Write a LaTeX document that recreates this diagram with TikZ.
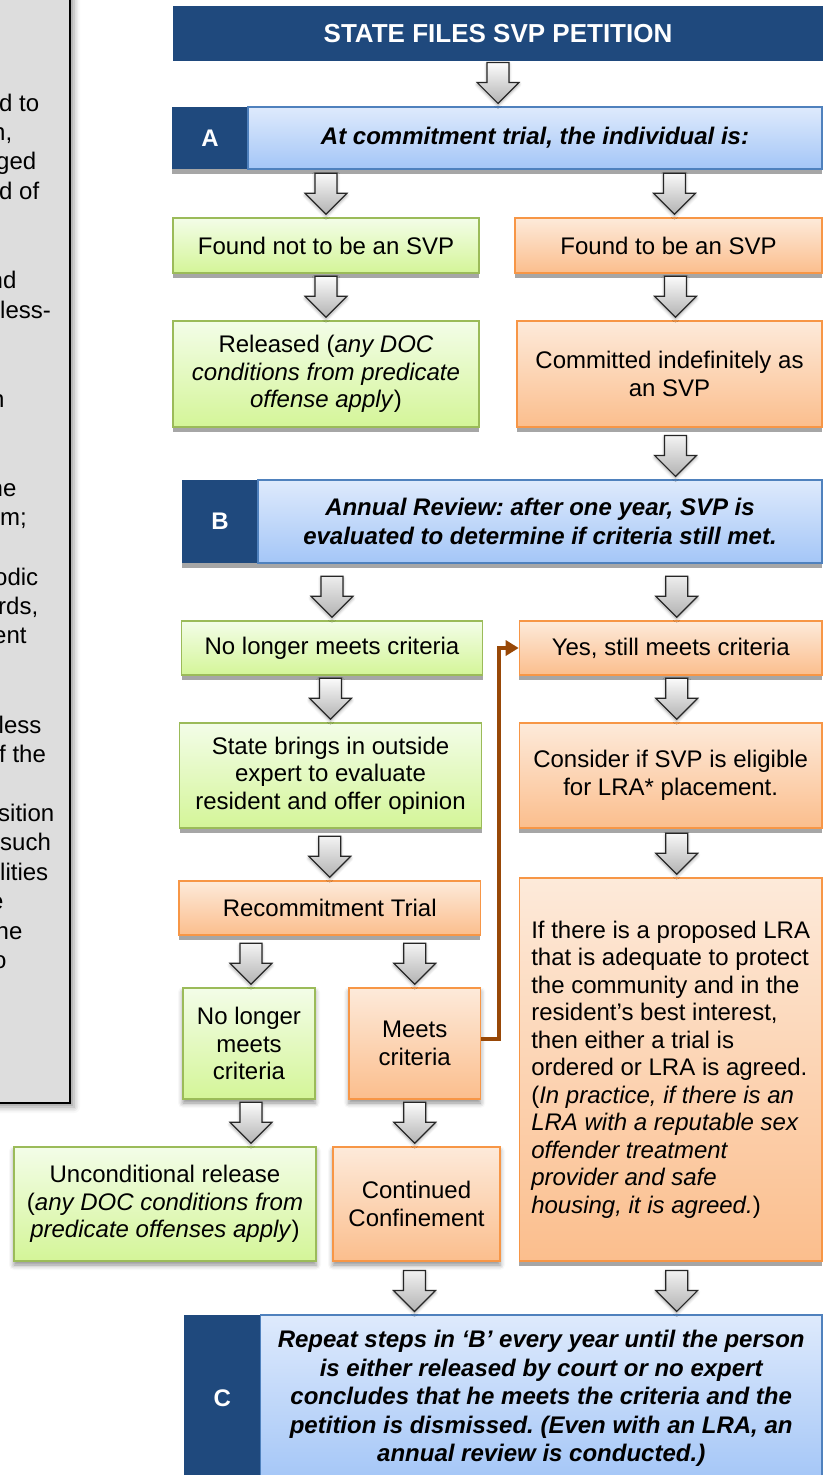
\documentclass[tikz,border=0pt]{standalone}
\usepackage{fontspec}
\setmainfont{Liberation Sans}
\frenchspacing
\usetikzlibrary{calc}
\usetikzlibrary{shadows}
\usetikzlibrary{shadows.blur}
\usetikzlibrary{arrows.meta}
\definecolor{navy}{RGB}{31,73,125}
\definecolor{barline}{RGB}{79,129,189}
\definecolor{bartop}{RGB}{222,234,252}
\definecolor{barbot}{RGB}{164,198,247}
\definecolor{grnline}{RGB}{155,187,89}
\definecolor{grntop}{RGB}{243,253,232}
\definecolor{grnbot}{RGB}{212,245,152}
\definecolor{orgline}{RGB}{247,150,70}
\definecolor{orgtop}{RGB}{253,234,218}
\definecolor{orgbot}{RGB}{251,190,141}
\definecolor{loopline}{RGB}{152,72,7}
\definecolor{panel}{RGB}{221,221,221}
\tikzset{
  txt/.style = {font=\fontsize{24}{27.5}\selectfont, align=center, inner sep=0},
  hard/.style = {drop shadow={shadow xshift=0pt, shadow yshift=-5pt, fill=black!35, opacity=1}},
  soft/.style = {blur shadow={shadow xshift=0pt, shadow yshift=-4pt, shadow blur radius=5pt, shadow opacity=45}},
  grn/.style = {txt, draw=grnline, line width=1.5pt, top color=grntop, bottom color=grnbot},
  org/.style = {txt, draw=orgline, line width=1.5pt, top color=orgtop, bottom color=orgbot},
  bar/.style = {txt, draw=barline, line width=1.2pt, top color=bartop, bottom color=barbot,
    font=\fontsize{24}{28.5}\selectfont\bfseries\itshape},
  tab/.style = {txt, fill=navy, text=white, font=\fontsize{24}{28}\selectfont\bfseries},
  frag/.style = {anchor=base west, inner sep=0, font=\fontsize{24}{29.5}\selectfont},
  bigarrow/.style = {draw=black!85, line width=1.2pt, top color=white, bottom color=black!30,
    blur shadow={shadow xshift=0pt, shadow yshift=-2pt, shadow blur radius=3pt, shadow opacity=35},
    to path={let \p1=(\tikztostart), \p2=(\tikztotarget) in
      (\x2-11pt,\y2+44pt) -- (\x2+11pt,\y2+44pt) -- (\x2+11pt,\y2+24pt) -- (\x2+21pt,\y2+24pt)
      -- (\x2,\y2+3pt) -- (\x2-21pt,\y2+24pt) -- (\x2-11pt,\y2+24pt) -- cycle}},
  connector/.style = {draw=loopline, line width=3.5pt, -{Triangle[length=13pt,width=15pt]}}
}
\begin{document}
\begin{tikzpicture}[x=1pt, y=-1pt]
  \useasboundingbox (0,0) rectangle (823,1475);

  % side panel, cut by the page edge
  \draw[fill=panel, line width=2pt,
    blur shadow={shadow xshift=4pt, shadow yshift=-4pt, shadow blur radius=6pt}] (-30,-30) rectangle (70,1103);
  \node[frag] (f1) at (-1,111) {d to};
  \node[frag] (f2) at (-8,140) {n,};
  \node[frag] (f3) at (-4,169) {ged};
  \node[frag] (f4) at (-1,199) {d of};
  \node[frag] (f5) at (-10.5,288) {nd};
  \node[frag] (f6) at (0,318) {less-};
  \node[frag] (f7) at (-9,407) {n};
  \node[frag] (f8) at (-10.5,496) {ne};
  \node[frag] (f9) at (0,525) {m;};
  \node[frag] (f10) at (-6,585) {odic};
  \node[frag] (f11) at (-2,614) {rds,};
  \node[frag] (f12) at (-7,643) {ent};
  \node[frag] (f13) at (-1.5,733) {less};
  \node[frag] (f14) at (-1,762) {f the};
  \node[frag] (f15) at (-2,821) {sition};
  \node[frag] (f16) at (0,850.5) {such};
  \node[frag] (f17) at (0,880) {lities};
  \node[frag] (f18) at (-10,909.5) {e};
  \node[frag] (f19) at (-4.5,939) {ne};
  \node[frag] (f20) at (-7,968.5) {o};

  % step A
  \node[tab, minimum width=650pt, minimum height=55pt, font=\fontsize{26}{30}\selectfont\bfseries] (hdr) at (498,33.5) {STATE FILES SVP PETITION};
  \node[tab, hard, minimum width=76pt, minimum height=62pt] (tabA) at (210,138) {A};
  \node[bar, hard, minimum width=574pt, minimum height=62pt] (barA) at (535,138) {At commitment trial, the individual is:};
  \node[grn, hard, minimum width=306pt, minimum height=55pt] (foundno) at (326,245.5) {Found not to be an SVP};
  \node[org, hard, minimum width=307pt, minimum height=55pt] (foundyes) at (668.5,245.5) {Found to be an SVP};
  \node[grn, hard, minimum width=306pt, minimum height=106pt] (released) at (326,374)
    {Released (\textit{any DOC}\\\textit{conditions from predicate}\\\textit{offense apply})};
  \node[org, hard, minimum width=305pt, minimum height=106pt] (committed) at (669.5,374) {Committed indefinitely as\\an SVP};

  % step B
  \node[tab, hard, minimum width=76.4pt, minimum height=83pt] (tabB) at (220,521.5) {B};
  \node[bar, hard, minimum width=564pt, minimum height=83pt] (barB) at (540,521.5)
    {Annual Review: after one year, SVP is\\evaluated to determine if criteria still met.};
  \node[grn, hard, minimum width=301pt, minimum height=54pt] (nolonger) at (332,648) {No longer meets criteria};
  \node[org, hard, minimum width=302.5pt, minimum height=54pt] (yes) at (670.7,648) {Yes, still meets criteria};
  \node[grn, hard, minimum width=302pt, minimum height=105pt] (state) at (330.5,775.5)
    {State brings in outside\\expert to evaluate\\resident and offer opinion};
  \node[org, hard, minimum width=302.5pt, minimum height=105pt] (consider) at (670.7,775.5)
    {Consider if SVP is eligible\\for LRA* placement.};
  \node[org, hard, minimum width=301.5pt, minimum height=54pt] (recommit) at (329.7,908) {Recommitment Trial};
  \node[org, hard, minimum width=302.5pt, minimum height=383pt, align=left] (ifbox) at (670.7,1069.5)
    {If there is a proposed LRA\\that is adequate to protect\\the community and in the\\resident’s best interest,\\then either a trial is\\ordered or LRA is agreed.\\(\textit{In practice, if there is an}\\\textit{LRA with a reputable sex}\\\textit{offender treatment}\\\textit{provider and safe}\\\textit{housing, it is agreed.})};
  \node[grn, soft, minimum width=132pt, minimum height=111pt] (nolong2) at (249,1043.5) {No longer\\meets\\criteria};
  \node[org, soft, minimum width=131.5pt, minimum height=111pt] (meets) at (414.7,1043.5) {Meets\\criteria};
  \node[grn, soft, minimum width=302pt, minimum height=114pt] (uncond) at (165,1204)
    {Unconditional release\\(\textit{any DOC conditions from}\\\textit{predicate offenses apply})};
  \node[org, soft, minimum width=167pt, minimum height=114pt] (continued) at (416.5,1204) {Continued\\Confinement};

  % step C
  \node[tab, minimum width=76.5pt, minimum height=167pt] (tabC) at (222.2,1398.5) {C};
  \node[bar, minimum width=561.5pt, minimum height=167pt] (barC) at (541.2,1398.5)
    {Repeat steps in ‘B’ every year until the person\\is either released by court or no expert\\concludes that he meets the criteria and the\\petition is dismissed. (Even with an LRA, an\\annual review is conducted.)};

  % block arrows
  \draw[bigarrow] (hdr.south) to (hdr.south |- barA.north);
  \draw[bigarrow] (barA.south) to (foundno.north);
  \draw[bigarrow] (barA.south) to ([xshift=6pt]foundyes.north);
  \draw[bigarrow] (foundno.south) to (released.north);
  \draw[bigarrow] (foundyes.south) to ([xshift=6pt]committed.north);
  \draw[bigarrow] (committed.south) to ([xshift=6pt]committed.south |- barB.north);
  \draw[bigarrow] (barB.south) to (nolonger.north);
  \draw[bigarrow] (barB.south) to ([xshift=6pt]yes.north);
  \draw[bigarrow] (nolonger.south) to (state.north);
  \draw[bigarrow] (yes.south) to ([xshift=6pt]consider.north);
  \draw[bigarrow] (state.south) to (recommit.north);
  \draw[bigarrow] (consider.south) to ([xshift=6pt]ifbox.north);
  \draw[bigarrow] (recommit.south) to ([xshift=2pt]nolong2.north);
  \draw[bigarrow] (recommit.south) to (meets.north);
  \draw[bigarrow] (nolong2.south) to ([xshift=2pt]nolong2.south |- uncond.north);
  \draw[bigarrow] (meets.south) to (meets.south |- continued.north);
  \draw[bigarrow] (continued.south) to ([xshift=-2pt]continued.south |- barC.north);
  \draw[bigarrow] (ifbox.south) to ([xshift=6pt]ifbox.south |- barC.north);

  % back to the annual review
  \draw[connector] ([yshift=4.5pt]meets.east) -- ++(18,0) |- (yes.west);
\end{tikzpicture}
\end{document}
